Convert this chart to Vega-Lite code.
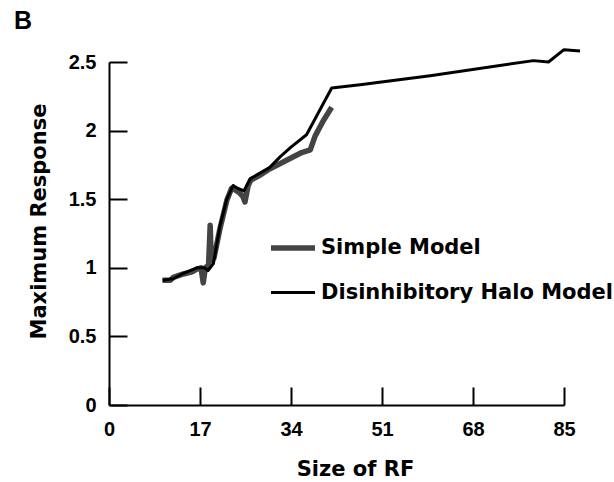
{
  "$schema": "https://vega.github.io/schema/vega-lite/v6.json",
  "width": 455,
  "height": 343,
  "autosize": "none",
  "padding": {"left": 109, "top": 62, "right": 50, "bottom": 77},
  "background": "white",
  "title": {"text": "B", "anchor": "start", "frame": "group", "font": "Liberation Sans", "fontSize": 25, "fontWeight": "bold", "color": "black", "dx": -95, "offset": 14},
  "config": {"view": {"stroke": null}},
  "data": {"values": [
    {"model": "Simple Model", "i": 1, "x": 10.0, "y": 0.91},
    {"model": "Simple Model", "i": 2, "x": 11.5, "y": 0.91},
    {"model": "Simple Model", "i": 3, "x": 12.0, "y": 0.93},
    {"model": "Simple Model", "i": 4, "x": 13.9, "y": 0.955},
    {"model": "Simple Model", "i": 5, "x": 15.5, "y": 0.97},
    {"model": "Simple Model", "i": 6, "x": 16.4, "y": 0.99},
    {"model": "Simple Model", "i": 7, "x": 17.2, "y": 1.0},
    {"model": "Simple Model", "i": 8, "x": 17.6, "y": 0.89},
    {"model": "Simple Model", "i": 9, "x": 18.0, "y": 1.0},
    {"model": "Simple Model", "i": 10, "x": 18.6, "y": 1.02},
    {"model": "Simple Model", "i": 11, "x": 18.9, "y": 1.31},
    {"model": "Simple Model", "i": 12, "x": 19.1, "y": 1.05},
    {"model": "Simple Model", "i": 13, "x": 19.6, "y": 1.07},
    {"model": "Simple Model", "i": 14, "x": 20.7, "y": 1.28},
    {"model": "Simple Model", "i": 15, "x": 22.0, "y": 1.49},
    {"model": "Simple Model", "i": 16, "x": 22.9, "y": 1.58},
    {"model": "Simple Model", "i": 17, "x": 23.5, "y": 1.57},
    {"model": "Simple Model", "i": 18, "x": 24.3, "y": 1.55},
    {"model": "Simple Model", "i": 19, "x": 25.0, "y": 1.52},
    {"model": "Simple Model", "i": 20, "x": 25.4, "y": 1.48},
    {"model": "Simple Model", "i": 21, "x": 26.0, "y": 1.60},
    {"model": "Simple Model", "i": 22, "x": 26.5, "y": 1.64},
    {"model": "Simple Model", "i": 23, "x": 28.0, "y": 1.67},
    {"model": "Simple Model", "i": 24, "x": 30.0, "y": 1.72},
    {"model": "Simple Model", "i": 25, "x": 32.0, "y": 1.76},
    {"model": "Simple Model", "i": 26, "x": 34.0, "y": 1.80},
    {"model": "Simple Model", "i": 27, "x": 36.0, "y": 1.84},
    {"model": "Simple Model", "i": 28, "x": 37.6, "y": 1.86},
    {"model": "Simple Model", "i": 29, "x": 38.5, "y": 1.96},
    {"model": "Simple Model", "i": 30, "x": 40.0, "y": 2.07},
    {"model": "Simple Model", "i": 31, "x": 41.6, "y": 2.17},
    {"model": "Disinhibitory Halo Model", "i": 1, "x": 10.0, "y": 0.91},
    {"model": "Disinhibitory Halo Model", "i": 2, "x": 12.0, "y": 0.92},
    {"model": "Disinhibitory Halo Model", "i": 3, "x": 13.9, "y": 0.96},
    {"model": "Disinhibitory Halo Model", "i": 4, "x": 16.4, "y": 1.0},
    {"model": "Disinhibitory Halo Model", "i": 5, "x": 17.8, "y": 1.0},
    {"model": "Disinhibitory Halo Model", "i": 6, "x": 18.5, "y": 0.98},
    {"model": "Disinhibitory Halo Model", "i": 7, "x": 19.5, "y": 1.03},
    {"model": "Disinhibitory Halo Model", "i": 8, "x": 20.7, "y": 1.30},
    {"model": "Disinhibitory Halo Model", "i": 9, "x": 22.0, "y": 1.50},
    {"model": "Disinhibitory Halo Model", "i": 10, "x": 23.2, "y": 1.60},
    {"model": "Disinhibitory Halo Model", "i": 11, "x": 24.0, "y": 1.58},
    {"model": "Disinhibitory Halo Model", "i": 12, "x": 25.2, "y": 1.56},
    {"model": "Disinhibitory Halo Model", "i": 13, "x": 26.4, "y": 1.65},
    {"model": "Disinhibitory Halo Model", "i": 14, "x": 30.0, "y": 1.73},
    {"model": "Disinhibitory Halo Model", "i": 15, "x": 32.0, "y": 1.81},
    {"model": "Disinhibitory Halo Model", "i": 16, "x": 34.0, "y": 1.88},
    {"model": "Disinhibitory Halo Model", "i": 17, "x": 36.9, "y": 1.97},
    {"model": "Disinhibitory Halo Model", "i": 18, "x": 41.6, "y": 2.31},
    {"model": "Disinhibitory Halo Model", "i": 19, "x": 46.9, "y": 2.335},
    {"model": "Disinhibitory Halo Model", "i": 20, "x": 60.0, "y": 2.40},
    {"model": "Disinhibitory Halo Model", "i": 21, "x": 79.3, "y": 2.51},
    {"model": "Disinhibitory Halo Model", "i": 22, "x": 82.1, "y": 2.50},
    {"model": "Disinhibitory Halo Model", "i": 23, "x": 85.0, "y": 2.59},
    {"model": "Disinhibitory Halo Model", "i": 24, "x": 88.0, "y": 2.58}
  ]},
  "mark": {"type": "line", "clip": false, "strokeJoin": "round"},
  "encoding": {
    "x": {"field": "x", "type": "quantitative",
      "scale": {"domain": [0, 85], "nice": false, "zero": false},
      "axis": {"values": [0, 17, 34, 51, 68, 85], "grid": false, "tickSize": -18, "tickWidth": 2, "tickColor": "black", "domainColor": "black", "domainWidth": 2,
        "labelFont": "Liberation Sans", "labelFontWeight": "bold", "labelFontSize": 20, "labelColor": "black", "labelPadding": 32, "labelFlush": false,
        "title": "Size of RF", "titleFont": "DejaVu Sans", "titleFontSize": 21, "titleFontWeight": "bold", "titleColor": "black", "titleX": 246, "titleY": 70, "titleBaseline": "alphabetic"}},
    "y": {"field": "y", "type": "quantitative",
      "scale": {"domain": [0, 2.5], "nice": false},
      "axis": {"values": [0, 0.5, 1, 1.5, 2, 2.5], "format": "~g", "grid": false, "tickSize": -18, "tickWidth": 2, "tickColor": "black", "domainColor": "black", "domainWidth": 2,
        "labelFont": "Liberation Sans", "labelFontWeight": "bold", "labelFontSize": 20, "labelColor": "black", "labelPadding": 31, "labelFlush": false,
        "title": "Maximum Response", "titleFont": "DejaVu Sans", "titleFontSize": 21, "titleFontWeight": "bold", "titleColor": "black", "titleX": -70, "titleY": 159, "titleBaseline": "middle", "titleAlign": "center", "titleAngle": -90}},
    "order": {"field": "i", "type": "quantitative"},
    "color": {"field": "model", "type": "nominal",
      "scale": {"domain": ["Simple Model", "Disinhibitory Halo Model"], "range": ["#444444", "#000000"]},
      "legend": {"orient": "none", "legendX": 159, "legendY": 161, "title": null, "symbolType": "stroke", "symbolSize": 1936, "rowPadding": 10, "padding": 0, "labelOffset": 3,
        "labelFont": "DejaVu Sans", "labelFontSize": 21, "labelFontWeight": "bold", "labelColor": "black", "labelLimit": 400}},
    "strokeWidth": {"field": "model", "type": "nominal",
      "scale": {"domain": ["Simple Model", "Disinhibitory Halo Model"], "range": [5.5, 3]},
      "legend": {"orient": "none", "legendX": 159, "legendY": 161, "title": null, "symbolType": "stroke", "symbolSize": 1936, "rowPadding": 10, "padding": 0, "labelOffset": 3,
        "labelFont": "DejaVu Sans", "labelFontSize": 21, "labelFontWeight": "bold", "labelColor": "black", "labelLimit": 400}}
  }
}
